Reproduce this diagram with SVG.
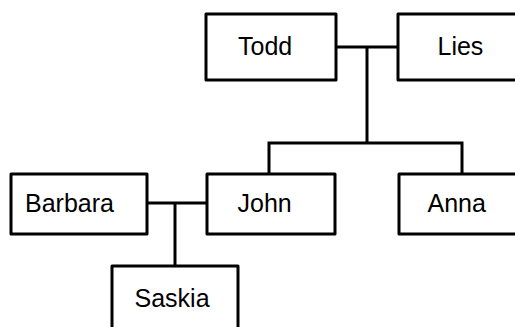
<svg xmlns="http://www.w3.org/2000/svg" width="515" height="327" viewBox="0 0 515 327">
  <style>
    .box { fill: #fff; stroke: #000; stroke-width: 3; stroke-linejoin: round; }
    .link { fill: none; stroke: #000; stroke-width: 3; }
    .label { font-family: "Liberation Sans", Arial, sans-serif; font-size: 25px; fill: #000; }
  </style>
  <rect width="515" height="327" fill="#fff"/>
  <g id="connectors">
    <path class="link" d="M336 47 H398"/>
    <path class="link" d="M367 47 V143"/>
    <path class="link" d="M269 174 V143 H462 V174"/>
    <path class="link" d="M147 203 H207"/>
    <path class="link" d="M175 203 V266"/>
  </g>
  <g id="todd">
    <rect class="box" x="206" y="14" width="130" height="66"/>
    <text class="label" x="238" y="55">Todd</text>
  </g>
  <g id="lies">
    <rect class="box" x="398" y="14" width="130" height="66"/>
    <text class="label" x="437.5" y="55">Lies</text>
  </g>
  <g id="barbara">
    <rect class="box" x="11" y="174" width="136" height="60"/>
    <text class="label" x="25" y="212">Barbara</text>
  </g>
  <g id="john">
    <rect class="box" x="207" y="174" width="128" height="60"/>
    <text class="label" x="237.5" y="212">John</text>
  </g>
  <g id="anna">
    <rect class="box" x="399" y="174" width="130" height="60"/>
    <text class="label" x="427.5" y="212">Anna</text>
  </g>
  <g id="saskia">
    <rect class="box" x="112" y="266" width="126" height="80"/>
    <text class="label" x="134.5" y="306.5">Saskia</text>
  </g>
</svg>
